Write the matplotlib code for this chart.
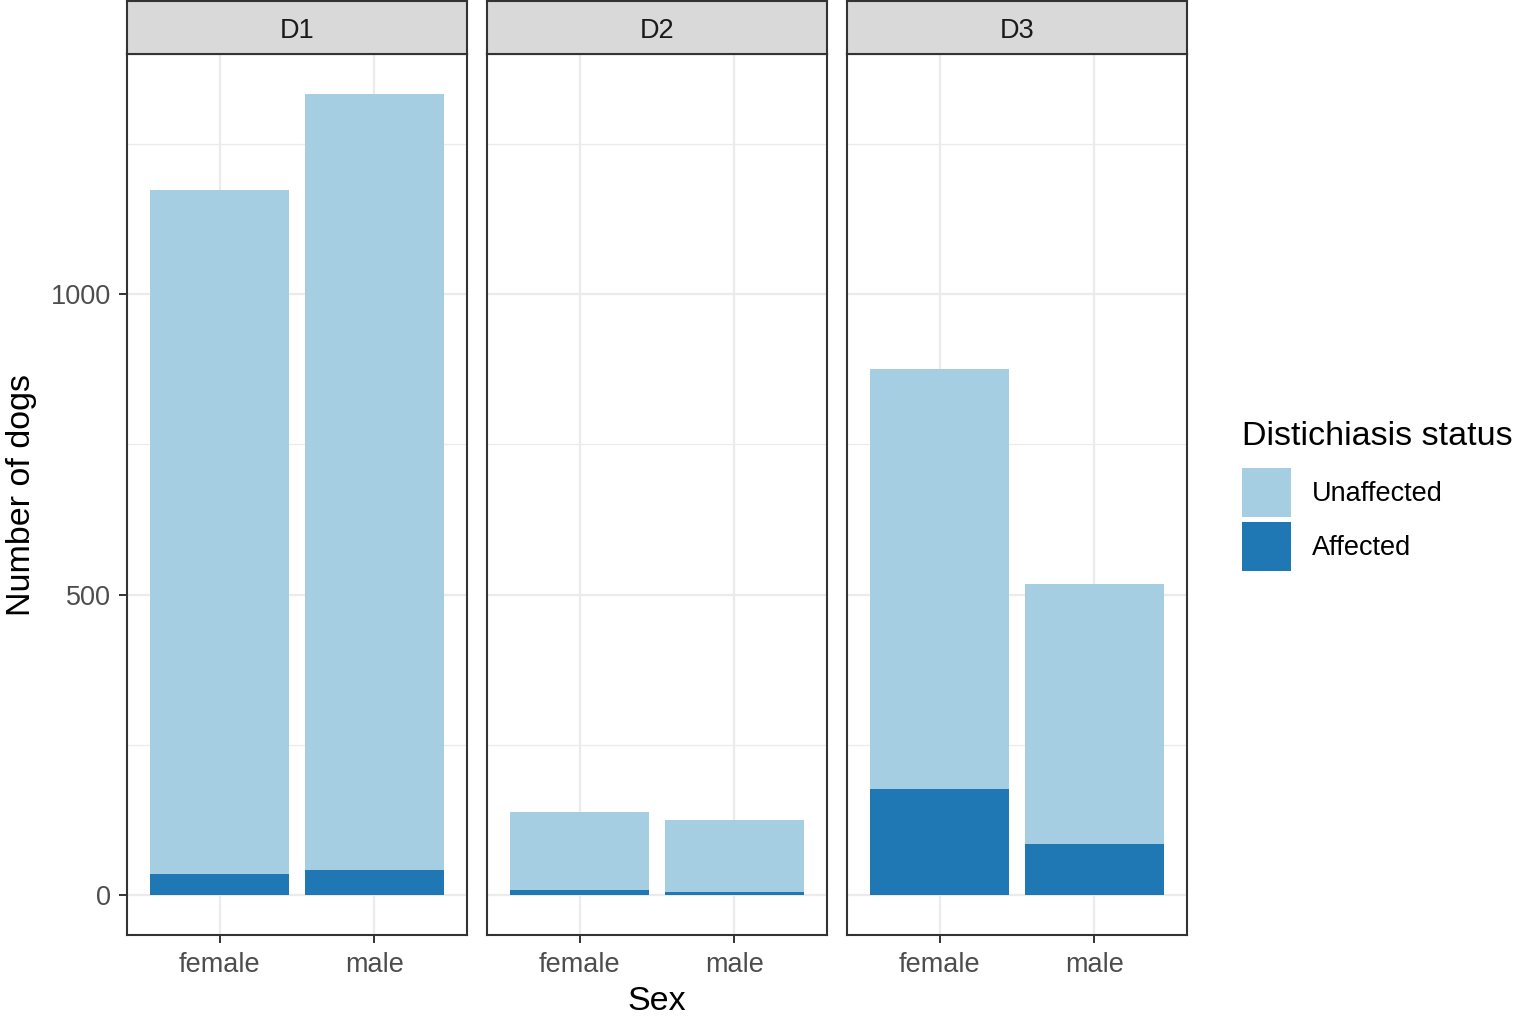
import matplotlib
matplotlib.use("Agg")
import matplotlib.pyplot as plt
from matplotlib.patches import Patch
import numpy as np

plt.rcParams['font.family'] = ['Liberation Sans', 'DejaVu Sans']

groups = ["D1", "D2", "D3"]
sexes = ["female", "male"]
affected = {"D1": [35, 42], "D2": [8, 5], "D3": [177, 84]}
unaffected = {"D1": [1173 - 35, 1333 - 42], "D2": [138 - 8, 125 - 5], "D3": [875 - 177, 517 - 84]}
status_labels = ["Unaffected", "Affected"]
colors = {"Unaffected": "#A6CEE3", "Affected": "#1F78B4"}

W, H = 1536, 1024
fig = plt.figure(figsize=(W / 100, H / 100), dpi=100)

panel_left = [127, 487, 847]
panel_w = 340
panel_top, panel_bot = 54, 935
strip_top = 1

ymin, ymax = -66.7, 1400
border_c = "#333333"

for i, g in enumerate(groups):
    l = panel_left[i]
    ax = fig.add_axes([l / W, 1 - panel_bot / H, panel_w / W, (panel_bot - panel_top) / H])
    x = np.arange(len(sexes)) + 1
    aff = np.array(affected[g])
    una = np.array(unaffected[g])
    ax.bar(x, aff, width=0.9, color=colors["Affected"], zorder=3, linewidth=0)
    ax.bar(x, una, bottom=aff, width=0.9, color=colors["Unaffected"], zorder=3, linewidth=0)
    ax.set_xlim(0.4, 2.6)
    ax.set_ylim(ymin, ymax)
    ax.set_xticks(x)
    ax.set_xticklabels(sexes)
    ax.set_yticks([0, 500, 1000])
    ax.set_yticks([250, 750, 1250], minor=True)
    ax.grid(True, which="major", color="#EBEBEB", linewidth=1.6, zorder=0)
    ax.grid(True, which="minor", axis="y", color="#EBEBEB", linewidth=0.9, zorder=0)
    ax.set_axisbelow(True)
    for s in ax.spines.values():
        s.set_color(border_c)
        s.set_linewidth(1.5)
        s.set_zorder(5)
    ax.tick_params(axis="both", which="major", length=5.5, width=1.4, color=border_c,
                   labelsize=19.5, labelcolor="#4D4D4D")
    ax.tick_params(axis="x", which="major", pad=6.5)
    ax.tick_params(axis="y", which="major", pad=6)
    ax.tick_params(axis="y", which="minor", length=0)
    if i > 0:
        ax.tick_params(axis="y", which="major", left=False, labelleft=False)
    else:
        ax.set_ylabel("Number of dogs", fontsize=24.5, labelpad=10, color="black")
    if i == 1:
        ax.set_xlabel("Sex", fontsize=24.5, labelpad=6, color="black")
    # strip
    sax = fig.add_axes([l / W, 1 - panel_top / H, panel_w / W, (panel_top - strip_top) / H])
    sax.set_facecolor("#D9D9D9")
    sax.set_xticks([])
    sax.set_yticks([])
    for s in sax.spines.values():
        s.set_color(border_c)
        s.set_linewidth(1.5)
    sax.text(0.5, 0.44, g, ha="center", va="center", fontsize=19.5, color="#1A1A1A",
             transform=sax.transAxes)

handles = [Patch(facecolor=colors[s], edgecolor="none", label=s) for s in status_labels]
leg = fig.legend(handles=handles, loc="upper left", bbox_to_anchor=(1237 / W, 1 - 416 / H),
                 frameon=False, title="Distichiasis status", fontsize=19.5, title_fontsize=24.5,
                 handlelength=1.8, handleheight=2.41, labelspacing=0.2, handletextpad=0.75,
                 borderaxespad=0, borderpad=0.2)
leg._legend_box.align = "left"
leg._legend_box.sep = 11

fig.savefig("out.png", dpi=100)
